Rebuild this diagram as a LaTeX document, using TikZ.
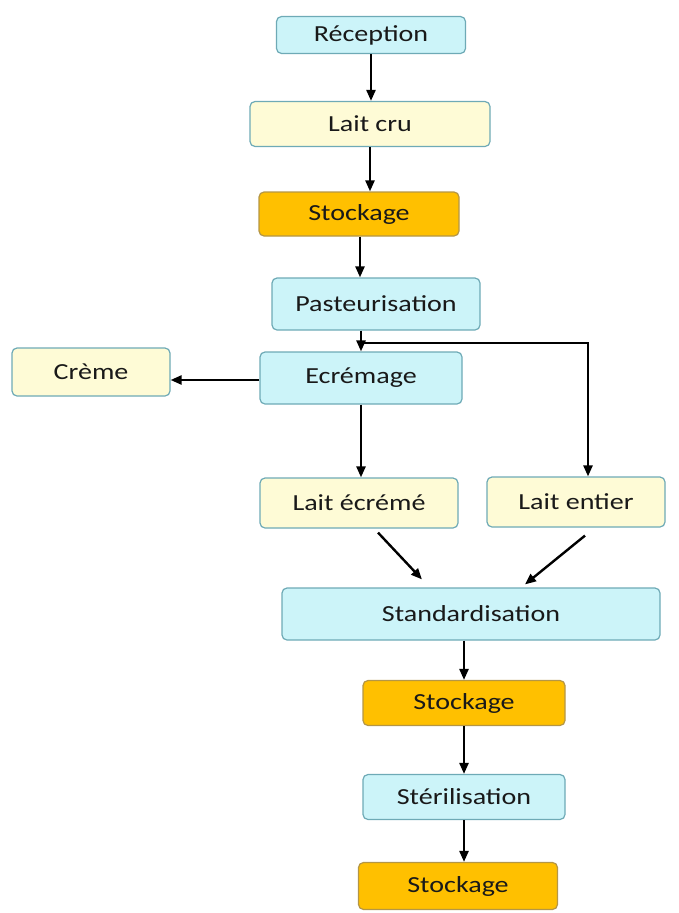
\documentclass[tikz,border=0pt]{standalone}
\usepackage{fontspec}
\setmainfont{Carlito}[FakeStretch=1.22]
\usetikzlibrary{arrows.meta,calc}
\definecolor{cyanfill}{RGB}{204,244,249}
\definecolor{yellowfill}{RGB}{254,251,214}
\definecolor{orangefill}{RGB}{255,192,0}
\definecolor{boxline}{RGB}{110,170,182}
\definecolor{orangeline}{RGB}{180,150,70}

\begin{document}
\begin{tikzpicture}[x=1pt, y=-1pt,
  box/.style={draw=boxline, line width=1.2pt, rounded corners=5pt, font=\fontsize{23}{25}\selectfont, text=black!90, inner sep=0pt},
  cyanbox/.style={box, fill=cyanfill},
  yellowbox/.style={box, fill=yellowfill},
  orangebox/.style={box, fill=orangefill, draw=orangeline},
  arr/.style={-{Triangle[length=11pt,width=9pt]}, line width=2.4pt, black}]
\useasboundingbox (0,0) rectangle (679,913);

% boxes: name/style/centre/width/height/text
\foreach \n/\s/\x/\y/\w/\h/\t in {
  rec/cyanbox/371/35/189/37/Réception,
  cru/yellowbox/370/124/240/45/Lait cru,
  stoa/orangebox/359/214/200/44/Stockage,
  past/cyanbox/376/304/208/52/Pasteurisation,
  creme/yellowbox/91/372/158/48/Crème,
  ecr/cyanbox/361/378/202/52/Ecrémage,
  ecreme/yellowbox/359/503/198/50/Lait écrémé,
  entier/yellowbox/576/502/178/50/Lait entier,
  std/cyanbox/471/614/378/52/Standardisation,
  stob/orangebox/464/703/202/45/Stockage,
  ster/cyanbox/464/797/202/45/Stérilisation,
  stoc/orangebox/458/886/199/47/Stockage} {
  \node[\s, minimum width=\w pt, minimum height=\h pt] (\n) at (\x,\y) {\t};
}

\draw[arr] (rec.south) -- (rec.south |- cru.north);
\draw[arr] (cru) -- (cru |- stoa.north);
\draw[arr] (stoa.south -| past.north) ++(-16pt,0) coordinate (s1) -- (s1 |- past.north);
\draw[arr] (past.south -| ecr.north) -- (ecr.north);
\coordinate (split) at ($(past.south -| ecr.north)!0.6!(ecr.north)$);
\draw[arr] (split) -| ([xshift=12pt]entier.north);
\draw[arr] ([yshift=-2pt]ecr.west) -- ([yshift=-2pt]ecr.west -| creme.east);
\draw[arr] (ecr.south) -- (ecr.south |- ecreme.north);
\draw[arr] ([xshift=19pt,yshift=-4pt]ecreme.south) -- ([xshift=-49pt,yshift=8pt]std.north);
\draw[arr] ([xshift=9pt,yshift=-8pt]entier.south) -- ([xshift=54pt,yshift=3pt]std.north);
\draw[arr] (std.south -| stob.north) -- (stob.north);
\draw[arr] (stob) -- (ster);
\draw[arr] (ster.south) -- (ster.south |- stoc.north);
\end{tikzpicture}
\end{document}
